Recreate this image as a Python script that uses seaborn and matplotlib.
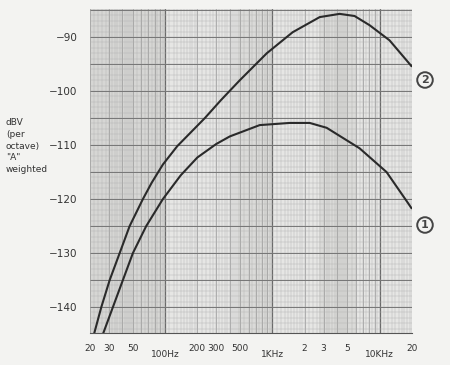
import numpy as np
import pandas as pd
import seaborn as sns
import matplotlib.pyplot as plt

# curve 2 (upper)
freq_2 = [21.8, 25.5, 30.5, 37.8, 46.8, 62.2, 75, 95.5, 130, 235, 331, 497, 887, 1546, 2760, 4234, 5835, 8050, 12350, 17780, 19800]
dbv_2 = [-145.0, -140.0, -135.0, -130.0, -125.0, -120.0, -117.0, -113.6, -110.2, -105.0, -101.7, -98.0, -93.0, -89.1, -86.3, -85.7, -86.1, -87.8, -90.6, -94.3, -95.4]

# curve 1 (lower)
freq_1 = [26.4, 32.7, 40.5, 50.2, 66.8, 95.5, 140, 200, 300, 401, 762, 1450, 2228, 3205, 6500, 11590, 18160, 19800]
dbv_1 = [-145.0, -140.0, -135.0, -130.0, -125.0, -120.0, -115.6, -112.3, -109.8, -108.4, -106.3, -105.9, -105.9, -106.8, -110.6, -115.0, -120.6, -121.7]

yticks = [-90, -100, -110, -120, -130, -140]
ytick_labels = ['\u221290', '\u2212100', '\u2212110', '\u2212120', '\u2212130', '\u2212140']
xticks = [20, 30, 50, 100, 200, 300, 500, 1000, 2000, 3000, 5000, 10000, 20000]
xtick_labels = ['20', '30', '50', '100Hz', '200', '300', '500', '1KHz', '2', '3', '5', '10KHz', '20']

df = pd.concat([
    pd.DataFrame({'freq': freq_1, 'dbv': dbv_1, 'curve': '1'}),
    pd.DataFrame({'freq': freq_2, 'dbv': dbv_2, 'curve': '2'}),
])

sns.set_style('white')
plt.rcParams['font.family'] = ['DejaVu Sans']

fig = plt.figure(figsize=(4.5, 3.65), dpi=100, facecolor='#f3f3f1')
ax = fig.add_axes([90 / 450, 1 - 333 / 365, 322 / 450, 324 / 365])
ax.set_facecolor('#e6e6e4')
ax.set_xscale('log')
ax.set_xlim(20, 20000)
ax.set_ylim(-144.8, -84.8)

# scan shading on the graph paper
for a, b, c in [(20, 100, '#d6d6d4'), (480, 1000, '#dadad8'), (2700, 6000, '#dadad8')]:
    ax.axvspan(a, b, color=c, lw=0, zorder=0)

# log graph paper
fine = []
mid = []
for dec in [10, 100, 1000, 10000]:
    fine += list(dec * np.arange(1, 2, 0.1)) + list(dec * np.arange(2, 5, 0.2)) + list(dec * np.arange(5, 10, 0.5))
    mid += list(dec * np.arange(2, 10))
ax.vlines(fine, -145, -84, color='#b0b0b0', lw=0.3, zorder=1)
ax.vlines(mid, -145, -84, color='#959595', lw=0.45, zorder=1)
ax.vlines([100, 1000, 10000], -145, -84, color='#6a6a6a', lw=0.9, zorder=1)
ax.hlines(np.arange(-145, -84, 1), 20, 20000, color='#b0b0b0', lw=0.3, zorder=1)
ax.hlines(np.arange(-145, -84, 5), 20, 20000, color='#767676', lw=0.7, zorder=1)

sns.lineplot(data=df, x='freq', y='dbv', hue='curve', palette=['#2a2a2a', '#2a2a2a'],
             lw=1.5, legend=False, ax=ax, zorder=3, solid_joinstyle='round')

for s in ['top', 'right', 'left']:
    ax.spines[s].set_visible(False)
ax.spines['bottom'].set_color('#555555')
ax.spines['bottom'].set_linewidth(0.8)

ax.set_yticks(yticks)
ax.set_yticklabels(ytick_labels, fontsize=7.5, color='#333333')
ax.tick_params(axis='y', length=0, pad=9)

ax.set_xticks(xticks)
ax.set_xticklabels(xtick_labels, fontsize=6.5, color='#333333')
ax.set_xticks([40, 60, 70, 80, 90, 400, 600, 700, 800, 900, 4000, 6000, 7000, 8000, 9000], minor=True)
ax.xaxis.set_minor_formatter(plt.NullFormatter())
ax.tick_params(axis='x', which='both', direction='out', length=4, width=0.7, color='#444444', pad=4)
for t, lab in zip(ax.xaxis.get_major_ticks(), xtick_labels):
    if lab.endswith('Hz'):
        t.set_pad(8)
        t.tick1line.set_markersize(7)

ax.set_xlabel('')
ax.set_ylabel('')

fig.text(6 / 450, 1 - 146 / 365, 'dBV\n(per\noctave)\n"A"\nweighted', fontsize=6.5,
         color='#333333', ha='left', va='center', linespacing=1.4)

for lbl, ypix in [('2', 80), ('1', 225)]:
    fig.text(425 / 450, 1 - ypix / 365, lbl, fontsize=8, fontweight='bold', color='#444444',
             ha='center', va='center',
             bbox=dict(boxstyle='circle,pad=0.25', fc='none', ec='#444444', lw=1.4))

fig.savefig('out.png', dpi=100, facecolor=fig.get_facecolor())
